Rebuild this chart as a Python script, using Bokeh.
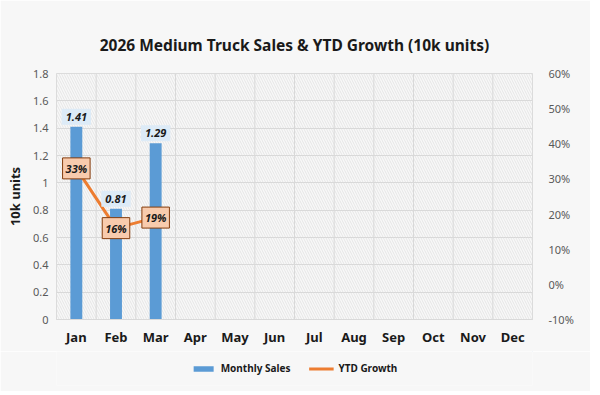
from bokeh.plotting import figure
from bokeh.layouts import column
from bokeh.models import (ColumnDataSource, FactorRange, Range1d, LinearAxis, FixedTicker,
                          PrintfTickFormatter, Legend, LegendItem, BoxAnnotation, Span)
from bokeh.core.properties import value
from bokeh.embed import file_html
from bokeh.resources import INLINE

months = ["Jan", "Feb", "Mar", "Apr", "May", "Jun", "Jul", "Aug", "Sep", "Oct", "Nov", "Dec"]
sales_months = ["Jan", "Feb", "Mar"]
sales = [1.41, 0.81, 1.29]
growth = [33, 16, 19]
sales_labels = ["1.41", "0.81", "1.29"]
growth_labels = ["33%", "16%", "19%"]
left_ticks = [0, 0.2, 0.4, 0.6, 0.8, 1.0, 1.2, 1.4, 1.6, 1.8]
right_ticks = [-10, 0, 10, 20, 30, 40, 50, 60]
series_names = ["Monthly Sales", "YTD Growth"]

FONT = "Noto Sans"
BG = "#f7f7f7"
GRID = "#d9d9d9"
BLUE = "#5b9bd5"
ORANGE = "#ed7d31"

p = figure(frame_width=476, frame_height=246, x_range=FactorRange(*months), y_range=Range1d(0, 1.8),
           output_backend="svg", toolbar_location=None,
           min_border_left=56, min_border_right=58, min_border_top=73, min_border_bottom=32)
p.background_fill_color = BG
p.border_fill_color = BG
p.outline_line_color = GRID

p.title.text = "2026 Medium Truck Sales & YTD Growth (10k units)"
p.title.align = "center"
p.title.text_font = FONT
p.title.text_font_size = "15.5px"
p.title.text_font_style = "bold"
p.title.text_color = "#1a1a1a"
p.title.standoff = 36

# hatched plot-area background
p.add_layout(BoxAnnotation(fill_color="#fbfbfb", line_color=None, hatch_pattern="\\",
                           hatch_color="#cfcfcf", hatch_alpha=0.55, hatch_scale=5,
                           hatch_weight=0.8, level="image"))

p.xgrid.visible = False
for i in range(1, 12):
    p.add_layout(Span(location=i, dimension="height", line_color=GRID, line_width=1, level="underlay"))
p.ygrid.ticker = FixedTicker(ticks=left_ticks)
p.ygrid.grid_line_color = GRID

p.extra_y_ranges = {"pct": Range1d(-10, 60)}

src_bar = ColumnDataSource(dict(m=sales_months, v=sales, lab=sales_labels))
src_line = ColumnDataSource(dict(m=sales_months, g=growth, lab=growth_labels))

p.vbar(x="m", top="v", width=0.3, source=src_bar, fill_color=BLUE, line_color=None)
p.line(x="m", y="g", source=src_line, y_range_name="pct", line_color=ORANGE, line_width=3)

p.text(x="m", y="v", text="lab", source=src_bar, y_offset=-10,
       text_align="center", text_baseline="middle",
       text_font=value(FONT), text_font_size="11px", text_font_style="bold italic",
       text_color="#1a1a1a", background_fill_color="#ddebf7", padding=4)
p.text(x="m", y="g", text="lab", source=src_line, y_range_name="pct",
       text_align="center", text_baseline="middle",
       text_font=value(FONT), text_font_size="11px", text_font_style="bold italic",
       text_color="#1a1a1a", background_fill_color="#f8cbad",
       border_line_color="#843c0c", border_line_width=1, padding=3)

# axes
yax = p.yaxis[0]
yax.ticker = FixedTicker(ticks=left_ticks)
yax.major_label_overrides = {0: "0", 1: "1"}
yax.axis_label = "10k units"
yax.axis_label_text_font = FONT
yax.axis_label_text_font_size = "13px"
yax.axis_label_text_font_style = "bold"
yax.axis_label_text_color = "#1a1a1a"
yax.axis_label_standoff = 6
yax.axis_line_color = None
yax.major_tick_line_color = None
yax.minor_tick_line_color = None
yax.major_tick_in = 0
yax.major_tick_out = 0
yax.major_label_text_font = FONT
yax.major_label_text_font_size = "11px"
yax.major_label_text_color = "#595959"
yax.major_label_standoff = 8

rax = LinearAxis(y_range_name="pct", ticker=FixedTicker(ticks=right_ticks),
                 formatter=PrintfTickFormatter(format="%d%%"))
rax.axis_line_color = None
rax.major_tick_line_color = None
rax.minor_tick_line_color = None
rax.major_tick_in = 0
rax.major_tick_out = 0
rax.major_label_text_font = FONT
rax.major_label_text_font_size = "11px"
rax.major_label_text_color = "#595959"
rax.major_label_standoff = 16
p.add_layout(rax, "right")

xax = p.xaxis[0]
xax.axis_line_color = GRID
xax.major_tick_line_color = None
xax.minor_tick_line_color = None
xax.major_tick_in = 0
xax.major_tick_out = 0
xax.major_label_text_font = FONT
xax.major_label_text_font_size = "13px"
xax.major_label_text_font_style = "bold"
xax.major_label_text_color = "#1a1a1a"
xax.major_label_standoff = 8

# legend strip below the chart (proxy renderers lie outside the strip's visible range)
lg = figure(width=590, height=40, x_range=Range1d(0, 1), y_range=Range1d(0, 1),
            output_backend="svg", toolbar_location=None,
            min_border_left=22, min_border_right=0, min_border_top=0, min_border_bottom=6)
lg.axis.visible = False
lg.grid.visible = False
lg.outline_line_color = None
lg.background_fill_color = BG
lg.border_fill_color = BG
r_bar = lg.vbar(x=[5], top=[5], bottom=[4], width=0.3, fill_color=BLUE, line_color=None)
r_line = lg.line(x=[5, 6], y=[5, 5], line_color=ORANGE, line_width=3)
legend = Legend(items=[LegendItem(label=series_names[0], renderers=[r_bar]),
                       LegendItem(label=series_names[1], renderers=[r_line])],
                orientation="horizontal", location="center",
                label_text_font=FONT, label_text_font_size="10px", label_text_font_style="bold",
                label_text_color="#1a1a1a", glyph_width=25, glyph_height=7,
                background_fill_alpha=0, border_line_color=None, spacing=18, margin=0, padding=4)
lg.add_layout(legend)

layout = column(p, lg, spacing=0)
open("out.html", "w").write(file_html(layout, INLINE))
